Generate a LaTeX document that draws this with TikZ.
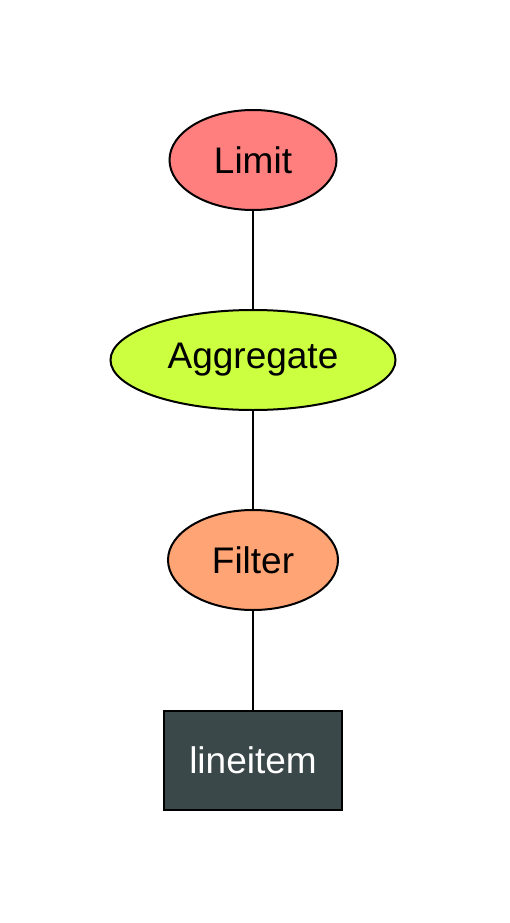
\documentclass[tikz,border=0pt]{standalone}
\usepackage{fontspec}
\setmainfont{Liberation Sans}
\usetikzlibrary{shapes.geometric}
\definecolor{limitc}{HTML}{FF7F7F}
\definecolor{aggc}{HTML}{CCFF3F}
\definecolor{filtc}{HTML}{FFA474}
\definecolor{tabc}{HTML}{3B4849}
\begin{document}
\begin{tikzpicture}[x=1pt,y=-1pt,
  op/.style={ellipse,draw=black,line width=2pt,inner sep=0pt,font=\fontsize{37}{40}\selectfont},
  tab/.style={rectangle,draw=black,line width=2pt,fill=tabc,text=white,inner sep=0pt,font=\fontsize{37}{40}\selectfont},
  edge/.style={line width=2pt,draw=black}]
\useasboundingbox (0,0) rectangle (509,923);
\node[op,fill=limitc,minimum width=167,minimum height=100] (limit) at (253,160) {Limit};
\node[op,fill=aggc,minimum width=285,minimum height=100] (agg) at (253,360) {Aggregate};
\node[op,fill=filtc,minimum width=170,minimum height=100] (filter) at (253,560) {Filter};
\node[tab,minimum width=178,minimum height=99] (line) at (253,760.5) {lineitem};
\draw[edge] (limit) -- (agg);
\draw[edge] (agg) -- (filter);
\draw[edge] (filter) -- (line);
\end{tikzpicture}
\end{document}
